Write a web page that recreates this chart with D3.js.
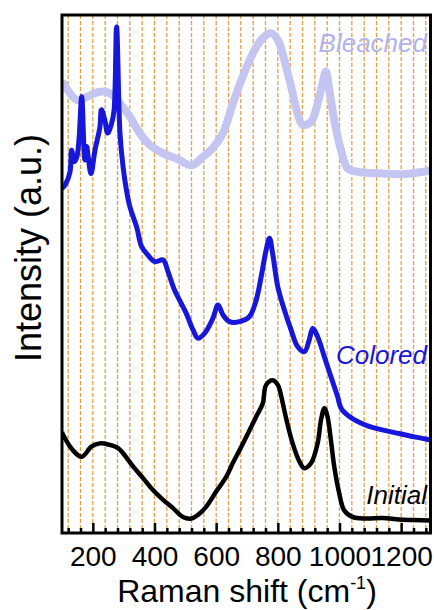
<!DOCTYPE html>
<html>
<head>
<meta charset="utf-8">
<script src="https://cdn.jsdelivr.net/npm/d3@7"></script>
<style>
  html, body { margin: 0; padding: 0; background: #fff; }
  svg { display: block; font-family: "Liberation Sans", Arial, sans-serif; }
</style>
</head>
<body>
<svg id="chart" width="434" height="610"></svg>
<script>
// Raman shift (cm^-1) and relative intensity (a.u.) for each spectrum
const initialShift = [100, 104, 135, 164, 196, 223, 255, 282, 298, 331, 363, 395, 428, 460, 492, 520, 541, 568, 600, 633, 654, 676, 703, 730, 751, 762, 784, 800, 807, 817, 829, 848, 870, 886, 908, 929, 940, 951, 961, 972, 983, 999, 1015, 1042, 1086, 1140, 1193, 1240, 1300];
const initialIntensity = [19.5, 18.9, 16.0, 14.7, 16.7, 17.3, 17.0, 16.4, 15.4, 12.8, 10.6, 8.3, 6.4, 4.8, 3.1, 2.8, 3.5, 5.1, 8.0, 10.9, 13.5, 16.0, 19.2, 22.5, 25.0, 28.6, 29.5, 28.6, 27.4, 24.8, 21.6, 17.3, 13.8, 12.5, 13.5, 17.3, 21.8, 24.1, 22.5, 18.0, 12.8, 7.7, 4.4, 3.1, 2.8, 2.9, 2.6, 2.5, 2.4];

const coloredShift = [100, 110, 126, 131, 140, 148, 155, 164, 174, 180, 185, 194, 207, 223, 228, 239, 248, 261, 269, 277, 288, 298, 309, 320, 342, 358, 374, 401, 428, 444, 465, 487, 503, 525, 541, 563, 589, 606, 622, 643, 676, 708, 730, 746, 762, 773, 783, 800, 821, 843, 864, 886, 902, 913, 929, 951, 972, 994, 1005, 1032, 1086, 1139, 1193, 1247, 1300];
const coloredIntensity = [66.5, 67.2, 69.7, 73.9, 71.7, 72.6, 75.9, 84.2, 72.0, 74.6, 72.6, 69.4, 73.9, 78.4, 81.7, 79.7, 77.2, 79.1, 81.7, 97.7, 77.2, 70.7, 66.2, 63.0, 59.1, 55.3, 54.0, 52.4, 52.7, 50.4, 46.9, 44.3, 42.4, 39.2, 37.6, 38.6, 41.4, 44.0, 42.1, 40.8, 40.8, 41.8, 45.0, 49.5, 54.6, 56.9, 54.0, 47.5, 43.1, 39.2, 36.0, 35.0, 37.3, 39.5, 37.9, 34.0, 30.2, 26.3, 24.1, 22.5, 20.8, 19.9, 19.2, 18.5, 17.9];

const bleachedShift = [100, 104, 148, 180, 223, 255, 288, 320, 352, 385, 428, 471, 520, 557, 589, 622, 654, 686, 719, 746, 778, 800, 821, 843, 864, 880, 908, 929, 945, 956, 967, 983, 1005, 1026, 1064, 1139, 1215, 1290, 1300];
const bleachedIntensity = [87.2, 86.8, 83.6, 84.2, 85.2, 84.9, 82.9, 80.4, 77.2, 74.9, 73.3, 72.3, 71.0, 72.6, 74.3, 77.2, 82.9, 88.1, 92.6, 95.2, 96.5, 95.2, 91.3, 86.2, 81.0, 78.8, 79.4, 82.9, 86.8, 89.1, 85.5, 79.7, 73.9, 70.4, 69.7, 69.4, 69.3, 69.9, 69.9];

const xTickLabels = [200, 400, 600, 800, 1000, 1200];
const seriesNames = ["Bleached", "Colored", "Initial"];

const svg = d3.select("#chart");
const margin = { left: 62, right: 2, top: 15, bottom: 77 };
const W = 434, H = 610;

const x = d3.scaleLinear().domain([100, 1300]).range([margin.left, W - margin.right]);
const y = d3.scaleLinear().domain([0, 100]).range([H - margin.bottom, margin.top]);

const minorTicks = d3.range(120, 1300, 40);

// dashed vertical guide lines
svg.append("g")
  .selectAll("line")
  .data(minorTicks)
  .join("line")
  .attr("x1", d => x(d)).attr("x2", d => x(d))
  .attr("y1", y(100)).attr("y2", y(0))
  .attr("stroke", "#e3a04a")
  .attr("stroke-width", 1.3)
  .attr("stroke-dasharray", "4,2");

const line = d3.line()
  .x(d => x(d[0]))
  .y(d => y(d[1]))
  .curve(d3.curveCatmullRom.alpha(0.5));

const plot = svg.append("g");
const clipId = "plot-clip";
svg.append("clipPath").attr("id", clipId)
  .append("rect")
  .attr("x", x(100)).attr("y", y(100))
  .attr("width", x(1300) - x(100)).attr("height", y(0) - y(100));
plot.attr("clip-path", `url(#${clipId})`);

plot.append("path")
  .datum(d3.zip(bleachedShift, bleachedIntensity))
  .attr("d", line)
  .attr("fill", "none")
  .attr("stroke", "#c4c5f1")
  .attr("stroke-width", 8)
  .attr("stroke-linejoin", "round");

plot.append("path")
  .datum(d3.zip(coloredShift, coloredIntensity))
  .attr("d", line)
  .attr("fill", "none")
  .attr("stroke", "#1717dc")
  .attr("stroke-width", 5)
  .attr("stroke-linejoin", "round");

plot.append("path")
  .datum(d3.zip(initialShift, initialIntensity))
  .attr("d", line)
  .attr("fill", "none")
  .attr("stroke", "#000")
  .attr("stroke-width", 4.5)
  .attr("stroke-linejoin", "round");

// bottom axis: long ticks at labelled values, short ticks in between
const xAxis = d3.axisBottom(x)
  .tickValues(minorTicks)
  .tickSizeInner(-5)
  .tickSizeOuter(0)
  .tickFormat(d => xTickLabels.includes(d) ? d : "");
const gx = svg.append("g")
  .attr("transform", `translate(0,${y(0)})`)
  .call(xAxis);
gx.select(".domain").remove();
gx.selectAll(".tick line")
  .attr("stroke", "#000")
  .attr("stroke-width", 2.5)
  .attr("y2", d => xTickLabels.includes(d) ? -10 : -5);
gx.selectAll(".tick text")
  .attr("y", 13)
  .attr("dy", "0.71em")
  .attr("fill", "#000")
  .style("font-size", "28px")
  .style("font-family", "'Liberation Sans', Arial, sans-serif");

// frame
svg.append("rect")
  .attr("x", x(100)).attr("y", y(100))
  .attr("width", x(1300) - x(100) - 1.5).attr("height", y(0) - y(100))
  .attr("fill", "none")
  .attr("stroke", "#000")
  .attr("stroke-width", 3);

// series labels
const labelColors = ["#b3b3ec", "#1717dc", "#000"];
const labelY = [52, 364, 504];
svg.append("g")
  .selectAll("text")
  .data(seriesNames)
  .join("text")
  .attr("x", 427)
  .attr("y", (d, i) => labelY[i])
  .attr("text-anchor", "end")
  .attr("font-style", "italic")
  .attr("font-size", 26)
  .attr("fill", (d, i) => labelColors[i])
  .text(d => d);

// axis titles
const xTitle = svg.append("text")
  .attr("x", 247)
  .attr("y", 602)
  .attr("text-anchor", "middle")
  .attr("font-size", 32)
  .attr("fill", "#000");
xTitle.append("tspan").text("Raman shift (cm");
xTitle.append("tspan").attr("font-size", 18).attr("dy", -13).text("-1");
xTitle.append("tspan").attr("dy", 13).text(")");

svg.append("text")
  .attr("transform", "translate(41,248) rotate(-90)")
  .attr("text-anchor", "middle")
  .attr("font-size", 36)
  .attr("fill", "#000")
  .text("Intensity (a.u.)");
</script>
</body>
</html>
